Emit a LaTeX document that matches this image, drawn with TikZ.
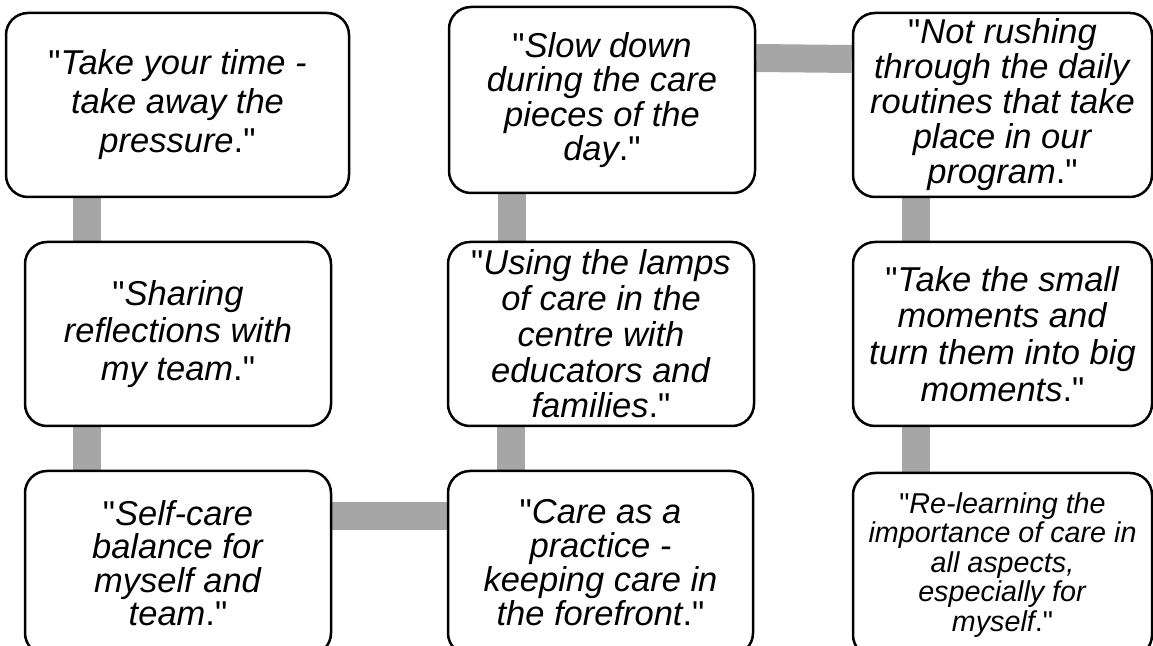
\documentclass[tikz,border=0pt]{standalone}
\usepackage{fontspec}
\newfontfamily\qfont{Liberation Sans}
\usetikzlibrary{backgrounds}
\newcommand\qi[1]{\textit{#1}}
\tikzset{
  qbox/.style={draw=black, line width=2.5pt, rounded corners=22pt, fill=white,
    minimum width=306pt, minimum height=184pt, inner sep=0pt, align=center},
  conn/.style={line width=28pt, draw={rgb,255:red,166;green,166;blue,166}},
  fs/.style={font=\qfont\fontsize{34.5}{#1}\selectfont}
}
\begin{document}
\begin{tikzpicture}[x=1pt,y=1pt]
\useasboundingbox (0,0) rectangle (1153,645);
\clip (0,0) rectangle (1153,645);
\node[qbox, minimum width=343pt, fs=39] (b1) at (177.5,540)
  {"\qi{Take your time -}\\\qi{take away the}\\\qi{pressure}."};
\node[qbox, fs=37.7] (b2) at (178,311)
  {"\qi{Sharing}\\\qi{reflections with}\\\qi{my team}."};
\node[qbox, fs=33.5] (b3) at (178,82)
  {"\qi{Self-care}\\\qi{balance for}\\\qi{myself and}\\\qi{team}."};
\node[qbox, minimum width=305pt, fs=34] (b4) at (600.5,82)
  {"\qi{Care as a}\\\qi{practice -}\\\qi{keeping care in}\\\qi{the forefront}."};
\node[qbox, fs=35.7] (b5) at (601,311)
  {"\qi{Using the lamps}\\\qi{of care in the}\\\qi{centre with}\\\qi{educators and}\\\qi{families}."};
\node[qbox, minimum height=186pt, fs=34.5] (b6) at (602,545)
  {"\qi{Slow down}\\\qi{during the care}\\\qi{pieces of the}\\\qi{day}."};
\node[qbox, minimum width=299pt, fs=35] (b7) at (1002.5,540)
  {"\qi{Not rushing}\\\qi{through the daily}\\\qi{routines that take}\\\qi{place in our}\\\qi{program}."};
\node[qbox, minimum width=299pt, fs=36.7] (b8) at (1002.5,311)
  {"\qi{Take the small}\\\qi{moments and}\\\qi{turn them into big}\\\qi{moments}."};
\node[qbox, minimum width=299pt, font=\qfont\fontsize{28.7}{29.5}\selectfont] (b9) at (1002.5,80)
  {"\qi{Re-learning the}\\\qi{importance of care in}\\\qi{all aspects,}\\\qi{especially for}\\\qi{myself}."};
\begin{scope}[on background layer]
\draw[conn] ([xshift=-90.5pt]b1.south) -- ([xshift=-91pt]b2.north);
\draw[conn] ([xshift=-91pt]b2.south) -- ([xshift=-91pt]b3.north);
\draw[conn] ([yshift=46.5pt]b3.east) -- ([yshift=46.5pt]b4.west);
\draw[conn] ([xshift=-89.5pt]b4.north) -- ([xshift=-90pt]b5.south);
\draw[conn] ([xshift=-89pt]b5.north) -- ([xshift=-90pt]b6.south);
\draw[conn] ([yshift=42pt]b6.east) -- ([yshift=46pt]b7.west);
\draw[conn] ([xshift=-86.5pt]b7.south) -- ([xshift=-86.5pt]b8.north);
\draw[conn] ([xshift=-86.5pt]b8.south) -- ([xshift=-86.5pt]b9.north);
\end{scope}
\end{tikzpicture}
\end{document}
